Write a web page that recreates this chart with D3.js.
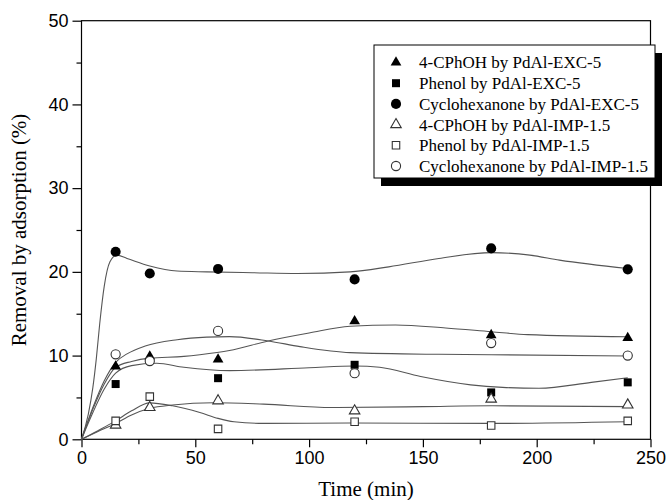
<!DOCTYPE html>
<html>
<head>
<meta charset="utf-8">
<script src="https://cdn.jsdelivr.net/npm/d3@7"></script>
<style>
  html, body { margin: 0; padding: 0; background: #fff; }
  svg { display: block; }
</style>
</head>
<body>
<svg id="chart" width="671" height="500"></svg>
<script>
// ---------- data ----------
const times = [15, 30, 60, 120, 180, 240];

// measured points (null = not shown)
const cphohEXC  = [8.7, 9.9, 9.55, 14.1, 12.45, 12.1];
const phenolEXC = [6.6, null, 7.3, 8.9, 5.6, 6.8];
const cycloEXC  = [22.4, 19.8, 20.35, 19.1, 22.8, 20.3];
const cphohIMP  = [1.7, 3.8, 4.6, 3.4, 4.8, 4.1];
const phenolIMP = [2.2, 5.1, 1.25, 2.1, 1.65, 2.2];
const cycloIMP  = [10.15, 9.35, 12.95, 7.9, 11.5, 10.0];

// fitted smooth curves: [time, value]
const fitCycloEXC = [[0,0],[3,3.0],[5,6.2],[6.5,9.6],[8,13.8],[10,18.3],[12.5,21.2],[15.5,22.0],[20,21.6],[30,20.7],[42,20.1],[55,20.0],[75,19.9],[95,19.8],[118,20.0],[135,20.6],[157,21.6],[180,22.3],[197,22.0],[210,21.4],[240,20.4]];
const fitCphohEXC = [[0,0],[5,3.6],[10,6.6],[15,8.6],[22,9.3],[30,9.7],[45,9.9],[52,10.1],[65,10.6],[82,11.75],[100,12.7],[118,13.5],[138,13.65],[160,13.3],[180,12.85],[196,12.5],[240,12.25]];
const fitCycloIMP = [[0,0],[5,3.8],[10,7.0],[15,9.2],[20,10.2],[28,11.15],[42,11.9],[55,12.2],[65,12.26],[82,11.75],[96,11.07],[118,10.35],[157,10.15],[180,10.1],[240,9.95]];
const fitPhenolEXC = [[0,0],[5,3.2],[10,6.0],[15,7.9],[22,8.8],[33,9.08],[45,8.6],[65,8.2],[100,8.55],[120,8.76],[131,8.6],[149,7.5],[171,6.5],[185,6.2],[201,6.1],[224,6.8],[240,7.35]];
const fitCphohIMP = [[0,0],[7,0.9],[15,1.9],[22,2.9],[30,3.7],[40,4.1],[58,4.37],[80,4.2],[110,3.8],[150,3.9],[180,4.0],[240,3.9]];
const fitPhenolIMP = [[0,0],[7,1.0],[15,2.2],[22,3.4],[30,4.35],[40,4.0],[52,3.2],[60,2.5],[67,2.1],[80,1.9],[118,1.95],[180,1.9],[240,2.1]];

const legendLabels = [
  "4-CPhOH by PdAl-EXC-5",
  "Phenol by PdAl-EXC-5",
  "Cyclohexanone by PdAl-EXC-5",
  "4-CPhOH by PdAl-IMP-1.5",
  "Phenol by PdAl-IMP-1.5",
  "Cyclohexanone by PdAl-IMP-1.5"
];

const xMajor = [0, 50, 100, 150, 200, 250];
const xMinor = [25, 75, 125, 175, 225];
const yMajor = [0, 10, 20, 30, 40, 50];
const yMinor = [5, 15, 25, 35, 45];

// ---------- setup ----------
const svg = d3.select("#chart");
const x = d3.scaleLinear().domain([0, 250]).range([81.5, 650.5]);
const y = d3.scaleLinear().domain([0, 50]).range([439.3, 20.7]);

const series = [
  { vals: cphohEXC,  fit: fitCphohEXC,  type: d3.symbolTriangle, filled: true,  size: 50 },
  { vals: phenolEXC, fit: fitPhenolEXC, type: d3.symbolSquare,   filled: true,  size: 64 },
  { vals: cycloEXC,  fit: fitCycloEXC,  type: d3.symbolCircle,   filled: true,  size: 80 },
  { vals: cphohIMP,  fit: fitCphohIMP,  type: d3.symbolTriangle, filled: false, size: 48 },
  { vals: phenolIMP, fit: fitPhenolIMP, type: d3.symbolSquare,   filled: false, size: 56 },
  { vals: cycloIMP,  fit: fitCycloIMP,  type: d3.symbolCircle,   filled: false, size: 66 }
];

// ---------- axes ----------
const sans = "'Liberation Sans', Arial, sans-serif";
const serif = "'Liberation Serif', 'Times New Roman', serif";

const gx = svg.append("g").attr("transform", `translate(0,${y(0)})`)
  .call(d3.axisBottom(x).tickValues(xMajor).tickSize(8).tickSizeOuter(0).tickPadding(4));
const gxm = svg.append("g").attr("transform", `translate(0,${y(0)})`)
  .call(d3.axisBottom(x).tickValues(xMinor).tickSize(5).tickSizeOuter(0).tickFormat(""));
const gy = svg.append("g").attr("transform", `translate(${x(0)},0)`)
  .call(d3.axisLeft(y).tickValues(yMajor).tickSize(9).tickSizeOuter(0).tickPadding(4));
const gym = svg.append("g").attr("transform", `translate(${x(0)},0)`)
  .call(d3.axisLeft(y).tickValues(yMinor).tickSize(5).tickSizeOuter(0).tickFormat(""));

[gx, gxm, gy, gym].forEach(g => {
  g.select(".domain").remove();
  g.selectAll(".tick line").attr("stroke", "#000").attr("stroke-width", 1.2);
  g.selectAll(".tick text").attr("fill", "#000").style("font-family", sans).style("font-size", "18px");
});
gx.selectAll(".tick text").attr("dy", "0.71em");

// frame
svg.append("rect")
  .attr("x", x(0)).attr("y", y(50))
  .attr("width", x(250) - x(0)).attr("height", y(0) - y(50))
  .attr("fill", "none").attr("stroke", "#000").attr("stroke-width", 1.2);

// axis titles
svg.append("text")
  .attr("x", (x(0) + x(250)) / 2).attr("y", 496)
  .attr("text-anchor", "middle")
  .style("font-family", serif).style("font-size", "21px")
  .text("Time (min)");
svg.append("text")
  .attr("transform", `translate(26,${(y(0) + y(50)) / 2}) rotate(-90)`)
  .attr("text-anchor", "middle")
  .style("font-family", serif).style("font-size", "21px")
  .text("Removal by adsorption (%)");

// ---------- curves ----------
const line = d3.line().x(d => x(d[0])).y(d => y(d[1])).curve(d3.curveMonotoneX);
svg.append("g").selectAll("path")
  .data(series).join("path")
  .attr("d", s => line(s.fit))
  .attr("fill", "none").attr("stroke", "#555").attr("stroke-width", 1.1);

// ---------- markers ----------
const sym = d3.symbol();
series.forEach(s => {
  const pts = times.map((t, i) => [t, s.vals[i]]).filter(p => p[1] !== null);
  svg.append("g").selectAll("path")
    .data(pts).join("path")
    .attr("transform", p => `translate(${x(p[0])},${y(p[1])})`)
    .attr("d", sym.type(s.type).size(s.size)())
    .attr("fill", s.filled ? "#000" : "#fff")
    .attr("stroke", s.filled ? "none" : "#333")
    .attr("stroke-width", 1.1);
});

// ---------- legend ----------
const lg = svg.append("g");
const lx = 374, ly = 45, lw = 281, lh = 133;
lg.append("rect").attr("x", lx + 7).attr("y", ly + 8).attr("width", lw).attr("height", lh).attr("fill", "#000");
lg.append("rect").attr("x", lx).attr("y", ly).attr("width", lw).attr("height", lh)
  .attr("fill", "#fff").attr("stroke", "#000").attr("stroke-width", 1);

const row = lg.selectAll("g.row").data(series).join("g")
  .attr("transform", (s, i) => `translate(0,${62.5 + i * 20.7})`);
row.append("path")
  .attr("transform", `translate(396,0)`)
  .attr("d", s => sym.type(s.type).size(s.size)())
  .attr("fill", s => s.filled ? "#000" : "#fff")
  .attr("stroke", s => s.filled ? "none" : "#333")
  .attr("stroke-width", 1.1);
row.append("text")
  .attr("x", 419).attr("dy", "0.35em")
  .style("font-family", serif).style("font-size", "17px")
  .text((s, i) => legendLabels[i]);
</script>
</body>
</html>
